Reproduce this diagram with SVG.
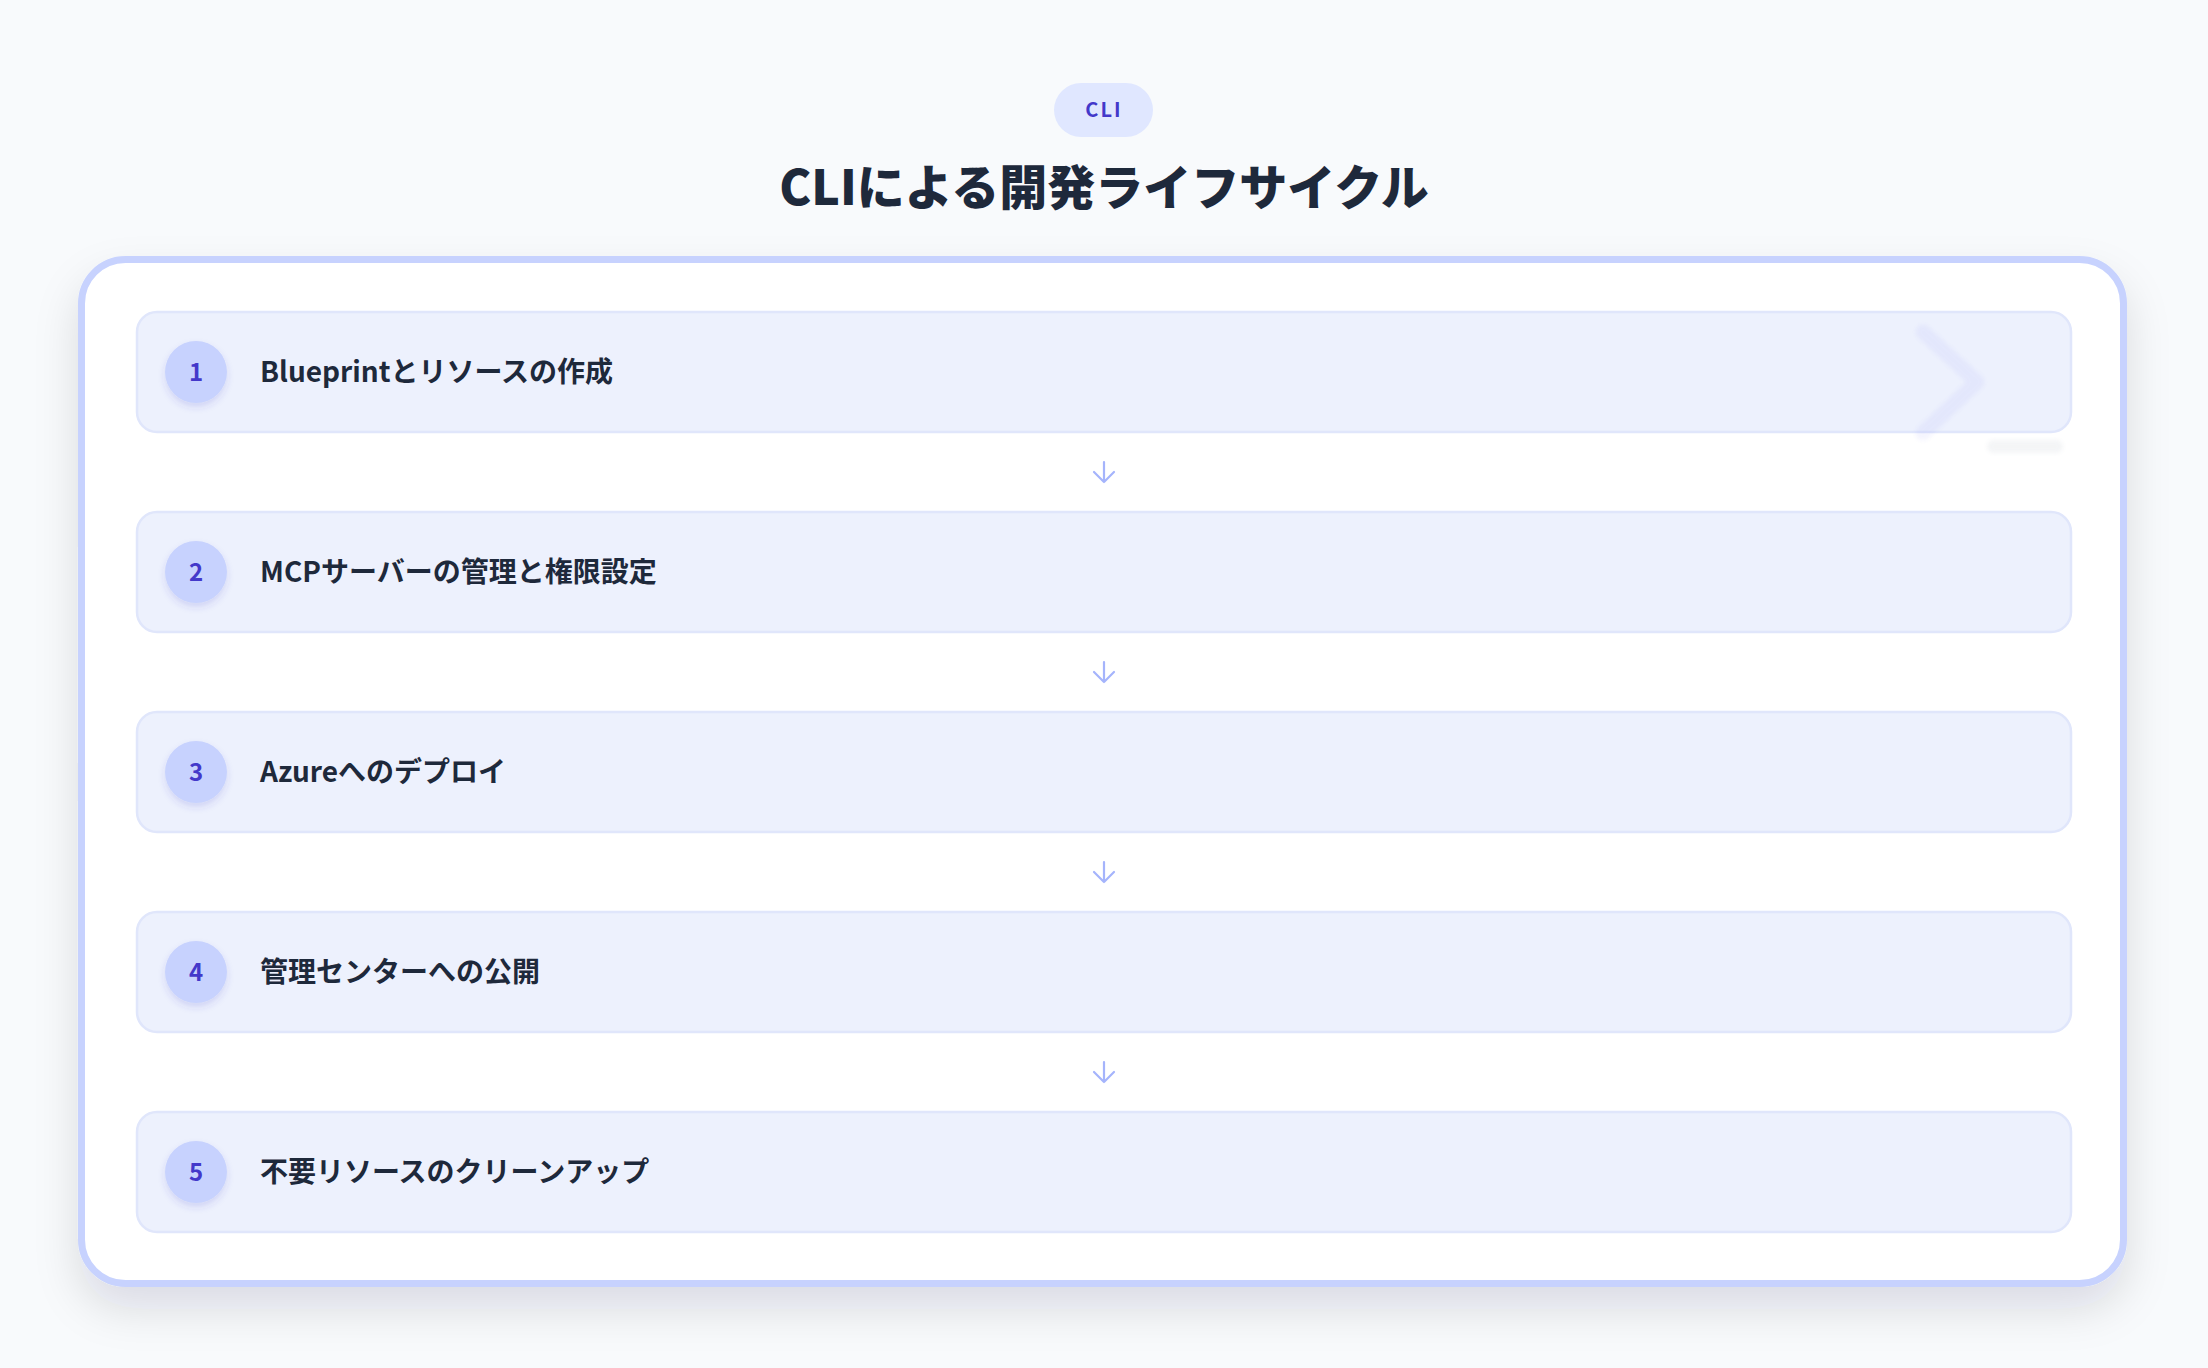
<svg xmlns="http://www.w3.org/2000/svg" width="2208" height="1368" viewBox="0 0 2208 1368">
  <defs>
    <style>
      .jp { font-family: "Noto Sans CJK JP", "Noto Sans", sans-serif; }
      .row { fill: #edf1fd; stroke: #e0e6fb; stroke-width: 2.5; }
      .num-bg { fill: #c7d2fe; }
      .num { font-size: 24px; font-weight: 700; fill: #4338ca; text-anchor: middle; }
      .label { font-size: 28px; font-weight: 700; fill: #1e293b; }
      .arrow { fill: none; stroke: #a5b4fc; stroke-width: 2.2; stroke-linecap: round; stroke-linejoin: round; }
    </style>
    <filter id="panelShadow" x="-10%" y="-10%" width="120%" height="125%">
      <feDropShadow dx="0" dy="22" stdDeviation="22" flood-color="#0f172a" flood-opacity="0.12"/>
    </filter>
    <filter id="circleShadow" x="-50%" y="-50%" width="200%" height="200%">
      <feDropShadow dx="0" dy="4" stdDeviation="3.5" flood-color="#4338ca" flood-opacity="0.16"/>
    </filter>
    <filter id="soft" x="-20%" y="-20%" width="140%" height="140%">
      <feGaussianBlur stdDeviation="2.2"/>
    </filter>
  </defs>

  <rect x="0" y="0" width="2208" height="1368" fill="#f8fafc"/>

  <g id="header">
    <rect x="1054" y="83" width="99" height="54" rx="27" fill="#e0e7ff"/>
    <text class="jp" x="1104" y="117" font-size="20" font-weight="700" fill="#4338ca" text-anchor="middle" letter-spacing="2">CLI</text>
    <text class="jp" x="1104" y="205" font-size="48" font-weight="900" fill="#1e293b" text-anchor="middle">CLIによる開発ライフサイクル</text>
  </g>

  <g id="panel">
    <rect x="81.5" y="259.5" width="2042" height="1024" rx="44" fill="#ffffff" stroke="#c7d2fe" stroke-width="7" filter="url(#panelShadow)"/>
  </g>

  <g id="step1">
    <rect class="row" x="137" y="312" width="1934" height="120" rx="20"/>
    <circle class="num-bg" cx="196" cy="372" r="31" filter="url(#circleShadow)"/>
    <text class="jp num" x="196" y="381">1</text>
    <text class="jp label" x="260" y="382">Blueprintとリソースの作成</text>
  </g>

  <g id="watermark" filter="url(#soft)" opacity="0.065">
    <polyline points="1923,332 1977,382 1923,433" fill="none" stroke="#6366f1" stroke-width="15" stroke-linecap="round" stroke-linejoin="round"/>
    <rect x="1987" y="440" width="76" height="13" rx="6.5" fill="#64748b"/>
  </g>

  <g id="step2">
    <rect class="row" x="137" y="512" width="1934" height="120" rx="20"/>
    <circle class="num-bg" cx="196" cy="572" r="31" filter="url(#circleShadow)"/>
    <text class="jp num" x="196" y="581">2</text>
    <text class="jp label" x="260" y="582">MCPサーバーの管理と権限設定</text>
  </g>

  <g id="step3">
    <rect class="row" x="137" y="712" width="1934" height="120" rx="20"/>
    <circle class="num-bg" cx="196" cy="772" r="31" filter="url(#circleShadow)"/>
    <text class="jp num" x="196" y="781">3</text>
    <text class="jp label" x="260" y="782">Azureへのデプロイ</text>
  </g>

  <g id="step4">
    <rect class="row" x="137" y="912" width="1934" height="120" rx="20"/>
    <circle class="num-bg" cx="196" cy="972" r="31" filter="url(#circleShadow)"/>
    <text class="jp num" x="196" y="981">4</text>
    <text class="jp label" x="260" y="982">管理センターへの公開</text>
  </g>

  <g id="step5">
    <rect class="row" x="137" y="1112" width="1934" height="120" rx="20"/>
    <circle class="num-bg" cx="196" cy="1172" r="31" filter="url(#circleShadow)"/>
    <text class="jp num" x="196" y="1181">5</text>
    <text class="jp label" x="260" y="1182">不要リソースのクリーンアップ</text>
  </g>

  <g id="connectors">
    <path class="arrow" d="M1104,462 V482 M1094,472 L1104,482 L1114,472"/>
    <path class="arrow" d="M1104,662 V682 M1094,672 L1104,682 L1114,672"/>
    <path class="arrow" d="M1104,862 V882 M1094,872 L1104,882 L1114,872"/>
    <path class="arrow" d="M1104,1062 V1082 M1094,1072 L1104,1082 L1114,1072"/>
  </g>
</svg>
